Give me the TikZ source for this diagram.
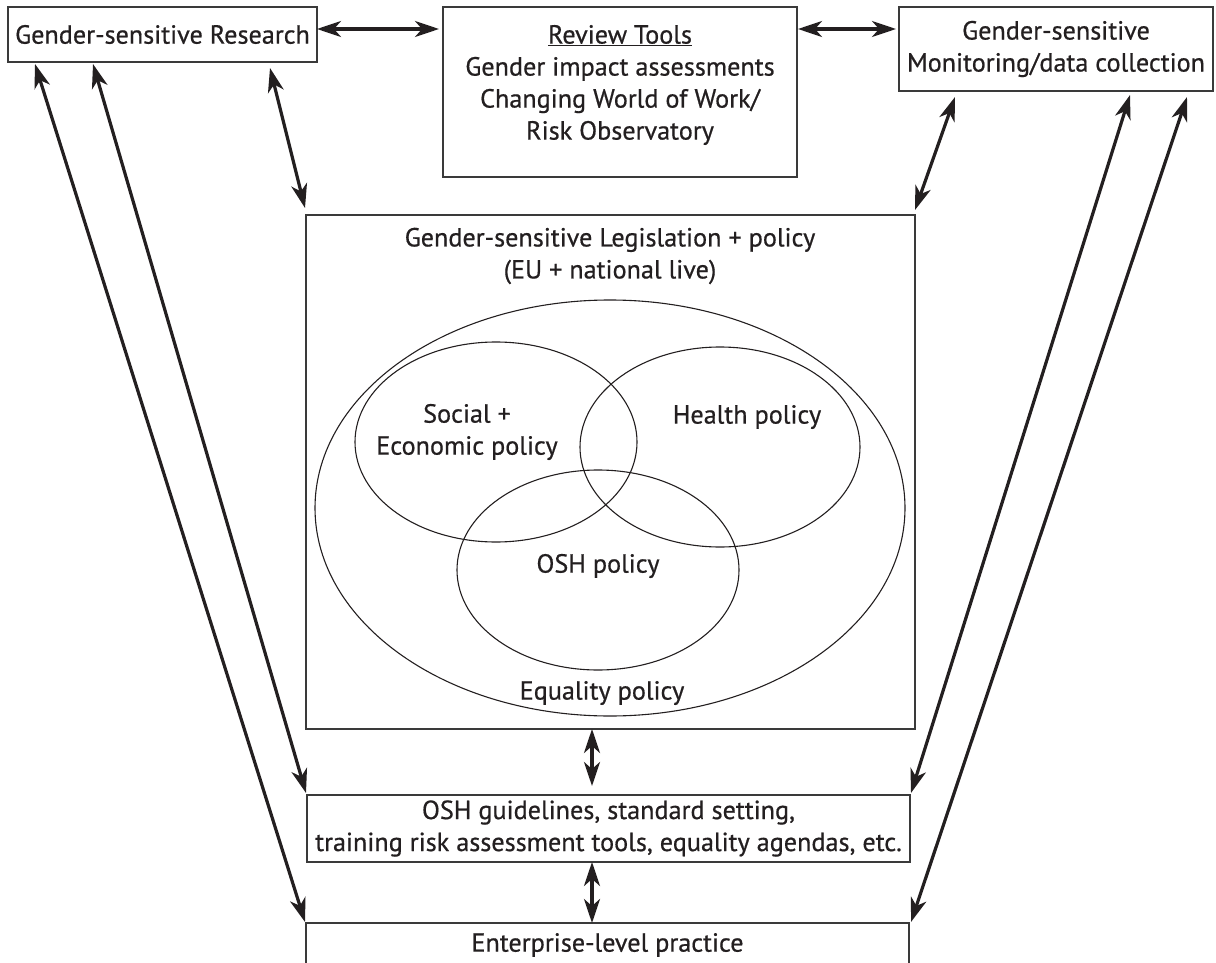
\documentclass[tikz,border=0pt]{standalone}
\usepackage{fontspec}
\setmainfont{PT Sans}
\newfontfamily\dfam{PT Sans}[FakeBold=0.6]
\usetikzlibrary{arrows.meta,calc}
\definecolor{ink}{HTML}{231F20}
\definecolor{boxc}{HTML}{3A3A3A}
\newcommand{\dfont}{\dfam\fontsize{26.2}{32}\selectfont}
\tikzset{
  box/.style={draw=boxc, line width=1.3pt, inner sep=0pt, outer sep=0pt, align=center, font=\dfont, text=ink},
  lbl/.style={font=\dfont, text=ink, align=center, inner sep=0pt},
  ell/.style={draw=ink, line width=1.1pt},
  tipA/.tip={Stealth[length=24pt,width=16pt,inset=7pt]},
  arr/.style={draw=ink, line width=3.2pt, tipA-tipA}
}
\begin{document}
\begin{tikzpicture}[x=1pt,y=-1pt]
\useasboundingbox (0,0) rectangle (1216,963);
\clip (0,0) rectangle (1216,963);
% top boxes
\node[box, minimum width=309pt, minimum height=55pt] (gsr) at (162.5,34.5) {Gender-sensitive Research};
\node[box, minimum width=354pt, minimum height=170pt] (review) at (620,92) {};
\node[lbl] (reviewtxt) at (620,85) {\underline{Review Tools}\\Gender impact assessments\\Changing World of Work/\\Risk Observatory};
\node[box, minimum width=314pt, minimum height=84pt] (mon) at (1056,49) {Gender-sensitive\\Monitoring/data collection};
% legislation box
\node[box, minimum width=609pt, minimum height=514pt] (leg) at (610.5,472) {};
\node[lbl] (legtxt) at (610,256) {Gender-sensitive Legislation + policy\\(EU + national live)};
\draw[ell] (610,508) ellipse [x radius=295, y radius=208];
\draw[ell] (496,442) ellipse [x radius=141, y radius=100];
\draw[ell] (720,447) ellipse [x radius=140, y radius=100];
\draw[ell] (598,570) ellipse [x radius=141, y radius=100];
\node[lbl] (social) at (467,432) {Social +\\Economic policy};
\node[lbl] (health) at (747,417) {Health policy};
\node[lbl] (oshpol) at (598,566) {OSH policy};
\node[lbl] (equal) at (602,693) {Equality policy};
% bottom boxes
\node[box, minimum width=603pt, minimum height=67pt] (osh) at (608.5,828.5) {OSH guidelines, standard setting,\\training risk assessment tools, equality agendas, etc.};
\node[box, minimum width=603pt, minimum height=44pt] (ent) at (607.5,945) {Enterprise-level practice};
% connectors
\coordinate (ay) at (0,29);
\coordinate (vx) at (592,0);
\draw[arr] (gsr.east |- ay) -- ([xshift=-4pt]review.west |- ay);
\draw[arr] ([xshift=1pt]review.east |- ay) -- ([xshift=-3pt]mon.west |- ay);
\draw[arr] ($(gsr.south east)+(-47,6)$) -- ($(leg.north west)+(-1,-7)$);
\draw[arr] ($(mon.south west)+(56,6)$) -- ($(leg.north east)+(0,-5)$);
\draw[arr] ($(gsr.south west)+(27,2)$) -- ($(ent.north west)+(-1,-1)$);
\draw[arr] ($(gsr.south west)+(85,2)$) -- ($(osh.north west)+(-1,-2)$);
\draw[arr] ($(mon.south west)+(231,4)$) -- ($(osh.north east)+(1,-2)$);
\draw[arr] ($(mon.south west)+(288,6)$) -- ($(ent.north east)+(2,-1)$);
\draw[arr] (leg.south -| vx) -- ($(osh.north -| vx)+(0,-9)$);
\draw[arr] (osh.south -| vx) -- (ent.north -| vx);
\end{tikzpicture}
\end{document}
